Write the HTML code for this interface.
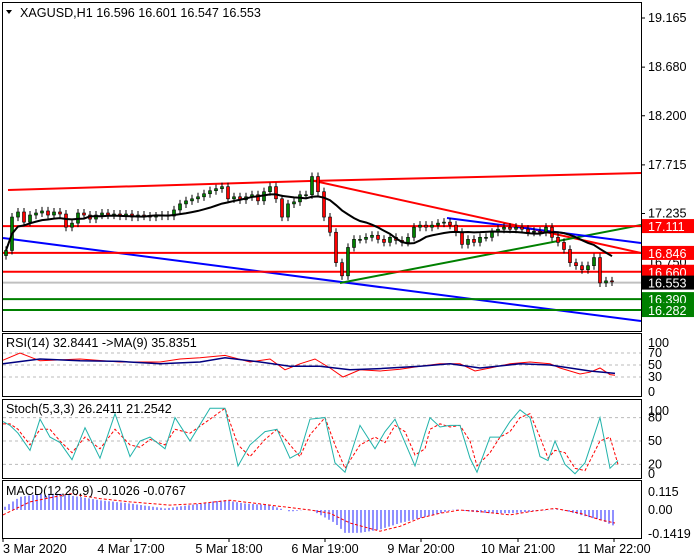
<!DOCTYPE html>
<html><head><meta charset="utf-8"><style>
body{margin:0;background:#fff;}
svg{display:block;font-family:"Liberation Sans",sans-serif;font-size:12.6px;}
</style></head><body>
<svg id="c" width="700" height="560">
<rect x="0" y="0" width="700" height="560" fill="#fff"/>
</svg>
<script>
const closes=[16.87,17.2,17.25,17.15,17.22,17.24,17.26,17.22,17.25,17.23,17.1,17.14,17.24,17.22,17.18,17.22,17.24,17.22,17.23,17.21,17.23,17.2,17.22,17.21,17.2,17.21,17.22,17.21,17.27,17.33,17.36,17.38,17.4,17.43,17.46,17.48,17.5,17.38,17.4,17.37,17.4,17.42,17.36,17.45,17.5,17.38,17.2,17.33,17.35,17.42,17.42,17.6,17.45,17.2,17.05,16.75,16.62,16.9,16.98,16.98,17.0,17.02,16.98,16.95,17.0,16.97,16.95,17.0,17.1,17.12,17.1,17.12,17.14,17.15,17.12,17.05,16.93,16.98,16.95,17.0,17.0,17.05,17.08,17.1,17.08,17.1,17.08,17.05,17.06,17.05,17.1,17.0,16.95,16.88,16.75,16.72,16.68,16.72,16.8,16.55,16.57,16.56];
const priceTicks=[19.165,18.680,18.200,17.715,17.235];
const levelsRed=[17.111,16.846,16.660];
const levelsGreen=[16.390,16.282];
const lastPrice=16.553;
const rsiX=[3,20,40,80,120,160,180,200,225,250,270,285,300,315,330,343,360,380,400,420,440,460,475,490,510,530,550,560,580,590,600,610,615];
const rsiVal=[58,70,57,60,55,55,60,62,66,55,60,42,52,60,45,30,42,40,43,48,52,52,40,45,52,55,52,45,35,38,45,34,33];
const rsiMaX=[3,40,80,120,160,200,225,260,290,320,350,380,420,450,480,520,550,590,615];
const rsiMaVal=[52,60,57,56,52,55,62,55,48,48,42,44,48,52,45,52,50,40,36];
const stX=[3,10,18,30,40,50,60,72,85,100,115,130,140,150,165,175,190,210,225,238,250,265,277,290,300,310,325,335,345,360,375,385,395,405,415,425,430,440,450,460,470,477,490,500,510,520,530,540,548,555,565,575,585,600,610,618];
const stMain=[75,70,60,38,78,55,48,26,67,28,85,30,50,55,40,80,50,92,92,18,45,62,65,28,35,78,80,22,10,70,40,62,78,48,18,60,80,68,70,70,28,10,55,55,75,90,80,30,25,50,20,8,22,80,15,25];
const stSig=[72,72,65,45,65,65,50,35,55,40,65,45,42,52,45,65,60,78,92,45,30,52,65,45,30,58,80,45,15,45,55,48,70,62,32,40,65,72,68,70,50,18,35,55,62,80,85,55,28,38,35,15,12,50,55,20];
const mX=[5,20,40,60,80,100,130,165,190,210,225,245,270,290,310,335,345,360,380,400,420,440,455,470,490,510,530,560,580,600,615];
const mHist=[0.02,0.08,0.1,0.1,0.08,0.06,0.04,0.01,0.03,0.05,0.06,0.04,0.03,-0.01,0.005,-0.08,-0.14,-0.14,-0.12,-0.08,-0.05,-0.02,0.005,-0.01,-0.02,-0.02,-0.01,0.005,-0.03,-0.06,-0.1];
const mSigX=[3,30,70,100,130,170,200,230,270,310,330,350,380,400,420,440,460,480,510,530,555,580,600,615];
const mSig=[-0.03,0.05,0.1,0.07,0.05,0.03,0.04,0.06,0.03,0,-0.02,-0.08,-0.13,-0.1,-0.05,-0.02,0,-0.01,-0.03,-0.01,0.01,-0.02,-0.06,-0.08];
const timeLabels=["3 Mar 2020","4 Mar 17:00","5 Mar 18:00","6 Mar 19:00","9 Mar 20:00","10 Mar 21:00","11 Mar 22:00"];
const timeX=[3,131,229,325,421,518,614];

const NS="http://www.w3.org/2000/svg",svg=document.getElementById('c');
function el(t,a,txt){const e=document.createElementNS(NS,t);for(const k in a)e.setAttribute(k,a[k]);if(txt!==undefined)e.textContent=txt;svg.appendChild(e);return e;}
const py=p=>18+(19.165-p)*101.3;
const bx=i=>6+i*6;
const rY=v=>395-0.6*v, sY=v=>480-0.78*v, mY=v=>510-163*v;
const R=641;
[[2,2,329],[2,333,63],[2,399,79],[2,480,58]].forEach((p,i)=>{
 const f=el('rect',{x:p[0]+.5,y:p[1]+.5,width:R-p[0],height:p[2],fill:'none',stroke:'#000'});
 
 
});
priceTicks.forEach(p=>{const y=py(p);
 el('line',{x1:R,x2:R+4,y1:y,y2:y,stroke:'#000'});
 const t=el('text',{x:648,y:y+4},p.toFixed(3));
 
});
el('text',{x:648,y:py(16.75)+4},'16.750');
const ti=el('text',{x:20,y:17},'XAGUSD,H1  16.596 16.601 16.547 16.553');

el('path',{d:'M6 10 L12 10 L9 14 Z',fill:'#000'});
function ln(x1,y1,x2,y2,c,n){const l=el('line',{x1,y1,x2,y2,stroke:c,'stroke-width':2});}
ln(3,py(lastPrice),R,py(lastPrice),'#c0c0c0','last-price-line');
ln(8,190,310,181,'#ff0000','upper-channel-line');ln(310,181,R,173,'#ff0000','upper-channel-line-2');
ln(310,180,R,253,'#ff0000','descending-resistance');
ln(3,238,R,321,'#0000ff','descending-support');
ln(340,283,R,225,'#008000','rising-support');
ln(447,218,R,243,'#0000ff','short-blue-trendline');
levelsRed.forEach(p=>ln(3,py(p),R,py(p),'#ff0000','red-level-'+p));
levelsGreen.forEach(p=>ln(3,py(p),R,py(p),'#008000','green-level-'+p));
closes.forEach((c,i)=>{const o=i?closes[i-1]:c-0.05;const x=bx(i);
 const hi=Math.max(o,c)+0.04,lo=Math.min(o,c)-0.04;
 el('line',{x1:x,x2:x,y1:py(hi),y2:py(lo),stroke:'#000'});
 const top=py(Math.max(o,c)),h=Math.max(1,py(Math.min(o,c))-top);
 const r=el('rect',{x:x-1.5,y:top,width:3,height:h,fill:c>=o?'#008000':'#ff0000',stroke:'#000','stroke-width':0.6});
 
});
let pts=[];closes.forEach((c,i)=>{const s=closes.slice(Math.max(0,i-13),i+1);pts.push(bx(i)+','+py(s.reduce((a,b)=>a+b,0)/s.length));});
const ma=el('polyline',{points:pts.join(' '),fill:'none',stroke:'#000','stroke-width':2});

function box(p,bg,n){const y=py(p);const b=el('rect',{x:642,y:y-7,width:52,height:14,fill:bg});el('text',{x:648,y:y+5,fill:'#fff'},p.toFixed(3));}
levelsRed.forEach(p=>box(p,'#ff0000','red-level-label'));
box(lastPrice,'#000','last-price-label');
levelsGreen.forEach(p=>box(p,'#008000','green-level-label'));
[70,50,30].forEach(v=>el('line',{x1:3,x2:R,y1:rY(v),y2:rY(v),stroke:'#bbb','stroke-dasharray':'3,3'}));
[[100,343],[70,0],[50,0],[30,0],[0,392]].forEach(a=>el('text',{x:648,y:(a[1]||rY(a[0]))+4},a[0]));
const rl=el('polyline',{points:rsiX.map((x,i)=>x+','+rY(rsiVal[i])).join(' '),fill:'none',stroke:'#ff0000'});

const rm=el('polyline',{points:rsiMaX.map((x,i)=>x+','+rY(rsiMaVal[i])).join(' '),fill:'none',stroke:'#000080','stroke-width':1.5});

el('text',{x:6,y:347},'RSI(14) 32.8441  ->MA(9) 35.8351');
[80,50,20].forEach(v=>el('line',{x1:3,x2:R,y1:sY(v),y2:sY(v),stroke:'#bbb','stroke-dasharray':'3,3'}));
[[100,411],[80,0],[50,0],[20,0],[0,474]].forEach(a=>el('text',{x:648,y:(a[1]||sY(a[0]))+4},a[0]));
const ss=el('polyline',{points:stX.map((x,i)=>x+','+sY(stSig[i])).join(' '),fill:'none',stroke:'#ff0000','stroke-dasharray':'3,2'});

const sm=el('polyline',{points:stX.map((x,i)=>x+','+sY(stMain[i])).join(' '),fill:'none',stroke:'#20b2aa'});

el('text',{x:6,y:413},'Stoch(5,3,3) 26.2411 21.2542');
for(let x=5;x<=616;x+=4){let k=0;while(k<mX.length-2&&mX[k+1]<x)k++;
 const t=Math.min(1,Math.max(0,(x-mX[k])/(mX[k+1]-mX[k])));const v=mHist[k]+(mHist[k+1]-mHist[k])*t;
 const b=el('line',{x1:x,x2:x,y1:mY(0),y2:mY(v),stroke:'#2020ff','stroke-width':1});}
const msl=el('polyline',{points:mSigX.map((x,i)=>x+','+mY(mSig[i])).join(' '),fill:'none',stroke:'#ff0000','stroke-dasharray':'3,2'});

[['0.115',492],['0.00',510],['-0.1419',534]].forEach(a=>el('text',{x:648,y:a[1]+4},a[0]));
el('text',{x:6,y:495},'MACD(12,26,9) -0.1026 -0.0767');
timeLabels.forEach((l,i)=>{const x=timeX[i];el('line',{x1:x,x2:x,y1:538,y2:542,stroke:'#000'});
 const t=el('text',{x:i?x:3,y:553,'text-anchor':i?'middle':'start'},l);});
</script>
</body></html>
